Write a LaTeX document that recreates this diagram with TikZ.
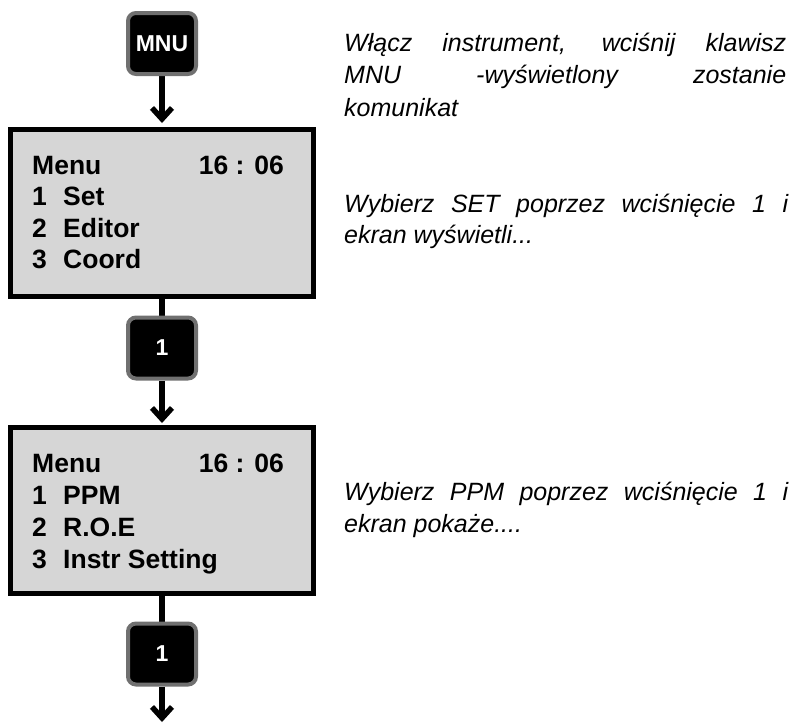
\documentclass[tikz,border=0pt]{standalone}
\usepackage{fontspec}
\setmainfont{Liberation Sans}
\usetikzlibrary{arrows.meta,backgrounds}
\definecolor{screenfill}{RGB}{214,214,214}
\definecolor{keyrim}{RGB}{112,112,112}
\begin{document}
\begin{tikzpicture}[x=1pt,y=-1pt,
  screen/.style={draw=black,line width=5pt,fill=screenfill,rectangle,inner sep=0pt,minimum width=303pt},
  keybox/.style={draw=keyrim,line width=4pt,fill=black,rounded corners=8pt,rectangle,inner sep=0pt,
    minimum width=68pt,minimum height=61pt,text=white,font=\fontsize{23}{26}\selectfont\bfseries},
  lcd/.style={inner sep=0pt,anchor=base west,font=\fontsize{26.5}{30}\selectfont\bfseries},
  lcdr/.style={inner sep=0pt,anchor=base east,font=\fontsize{26.5}{30}\selectfont\bfseries},
  note/.style={inner sep=0pt,anchor=base west,font=\fontsize{25}{28}\selectfont\itshape},
  conn/.style={line width=5.5pt},
  arr/.style={line width=5.5pt,-{Straight Barb[length=11pt,width=20pt]}}]
\useasboundingbox (0,0) rectangle (794,723);

% keys and screens
\node[keybox] (mnu) at (162,43.5) {MNU};
\node[screen,minimum height=167pt] (scr1) at (162,213) {};
\node[keybox] (k1) at (162,348) {1};
\node[screen,minimum height=166pt] (scr2) at (162,510.5) {};
\node[keybox] (k2) at (162,654) {1};
\coordinate (endpt) at (162,722);

% connectors behind
\begin{scope}[on background layer]
  \draw[arr,shorten >=4pt] (mnu) -- (scr1);
  \draw[conn] (scr1) -- (k1);
  \draw[arr,shorten >=2pt] (k1) -- (scr2);
  \draw[conn] (scr2) -- (k2);
  \draw[arr] (k2) -- (endpt);
\end{scope}

% screen 1 text
\node[lcd] (s1a) at (32,174) {Menu};
\node[lcdr] (s1t) at (284,174) {16 : 06};
\node[lcd] (s1n1) at (32,205.5) {1};
\node[lcd] (s1l1) at (63,205.5) {Set};
\node[lcd] (s1n2) at (32,237) {2};
\node[lcd] (s1l2) at (63,237) {Editor};
\node[lcd] (s1n3) at (32,268.5) {3};
\node[lcd] (s1l3) at (63,268.5) {Coord};

% screen 2 text
\node[lcd] (s2a) at (32,472) {Menu};
\node[lcdr] (s2t) at (284,472) {16 : 06};
\node[lcd] (s2n1) at (32,504) {1};
\node[lcd] (s2l1) at (63,504) {PPM};
\node[lcd] (s2n2) at (32,536) {2};
\node[lcd] (s2l2) at (63,536) {R.O.E};
\node[lcd] (s2n3) at (32,568) {3};
\node[lcd] (s2l3) at (63,568) {Instr Setting};

% notes
\node[note] (p11) at (344,51) {\makebox[442pt][s]{Włącz instrument, wciśnij klawisz}};
\node[note] (p12) at (344,83.5) {\makebox[442pt][s]{MNU -wyświetlony zostanie}};
\node[note] (p13) at (344,116) {komunikat};
\node[note] (p21) at (344,212) {\makebox[444pt][s]{Wybierz SET poprzez wciśnięcie 1 i}};
\node[note] (p22) at (344,243) {ekran wyświetli...};
\node[note] (p31) at (344,500) {\makebox[444pt][s]{Wybierz PPM poprzez wciśnięcie 1 i}};
\node[note] (p32) at (344,532) {ekran pokaże....};
\end{tikzpicture}
\end{document}
